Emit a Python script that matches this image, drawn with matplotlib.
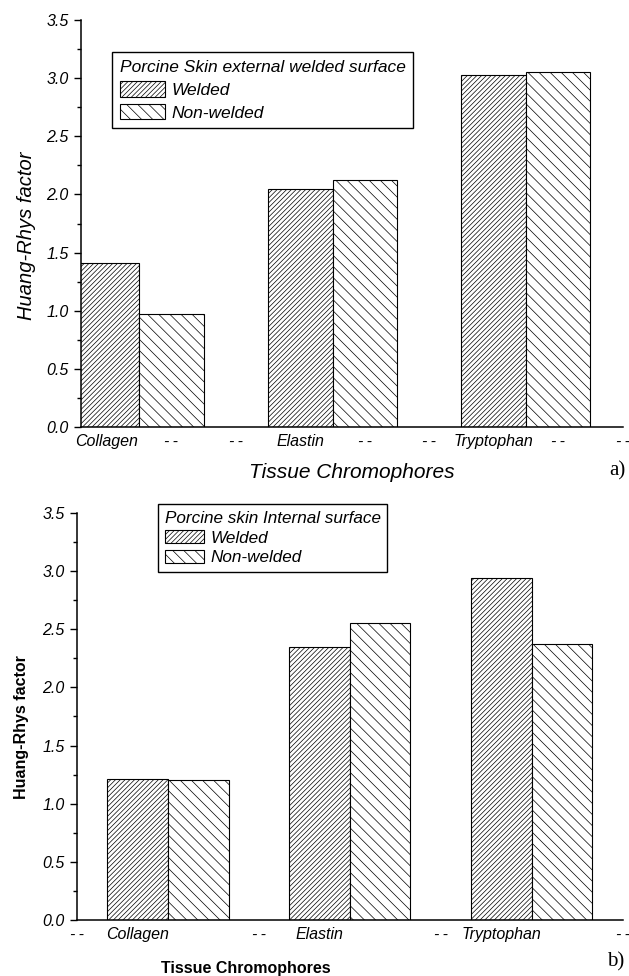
import matplotlib
matplotlib.use("Agg")
import matplotlib.pyplot as plt
from matplotlib.ticker import MultipleLocator

plt.rcParams['font.family'] = ['Liberation Sans', 'DejaVu Sans']
plt.rcParams['hatch.linewidth'] = 0.5

# data
welded_pos = [1, 4, 7]
nonwelded_pos = [2, 5, 8]

ext_welded = [1.41, 2.05, 3.03]
ext_nonwelded = [0.97, 2.12, 3.05]

int_welded = [1.21, 2.35, 2.94]
int_nonwelded = [1.20, 2.55, 2.37]

dash = '-\u2009-'
top_ticks = [1, 2, 3, 4, 5, 6, 7, 8, 9]
top_labels = ['Collagen', dash, dash, 'Elastin', dash, dash, 'Tryptophan', dash, dash]
bot_ticks = [0, 1, 3, 4, 6, 7, 9]
bot_labels = [dash, 'Collagen', dash, 'Elastin', dash, 'Tryptophan', dash]

hatch_w = '/' * 7
hatch_nw = '\\' * 3

fig = plt.figure(figsize=(6.29, 9.76), dpi=100)
ax1 = fig.add_axes([0.1288, 0.5625, 0.8612, 0.417])
ax2 = fig.add_axes([0.1224, 0.0574, 0.8676, 0.417])


def style_axes(ax):
    ax.spines['top'].set_visible(False)
    ax.spines['right'].set_visible(False)
    ax.spines['left'].set_linewidth(1.1)
    ax.spines['bottom'].set_linewidth(1.1)
    ax.set_ylim(0, 3.5)
    ax.yaxis.set_major_locator(MultipleLocator(0.5))
    ax.yaxis.set_minor_locator(MultipleLocator(0.25))
    ax.yaxis.set_major_formatter(matplotlib.ticker.FormatStrFormatter('%.1f'))
    ax.tick_params(axis='y', which='major', direction='out', length=5, width=1.0,
                   labelsize=11.5, pad=4)
    ax.tick_params(axis='y', which='minor', direction='out', length=3, width=1.0)
    ax.tick_params(axis='x', length=0, labelsize=11.5, pad=5)
    for lab in ax.get_yticklabels() + ax.get_xticklabels():
        lab.set_style('italic')


# a) external surface
ax1.bar(welded_pos, ext_welded, width=1.0, facecolor='white', edgecolor='black',
        linewidth=0.8, hatch=hatch_w, label='Welded')
ax1.bar(nonwelded_pos, ext_nonwelded, width=1.0, facecolor='white', edgecolor='black',
        linewidth=0.8, hatch=hatch_nw, label='Non-welded')
ax1.set_xlim(0.6, 9.0)
ax1.set_xticks(top_ticks)
ax1.set_xticklabels(top_labels)
style_axes(ax1)
ax1.set_ylabel('Huang-Rhys factor', fontsize=14.5, style='italic')
ax1.yaxis.set_label_coords(-0.084, 0.469)
ax1.set_xlabel('Tissue Chromophores', fontsize=15, style='italic', labelpad=10)
leg1 = ax1.legend(loc='upper left', bbox_to_anchor=(0.057, 0.921), borderaxespad=0,
                  title='Porcine Skin external welded surface',
                  title_fontproperties={'style': 'italic', 'size': 12.5},
                  prop={'style': 'italic', 'size': 12.5}, alignment='left',
                  fancybox=False, edgecolor='black', framealpha=1,
                  handlelength=2.6, handleheight=1.0, handletextpad=0.4,
                  labelspacing=0.35, borderpad=0.45)
leg1.get_frame().set_linewidth(1.0)

# b) internal surface
ax2.bar(welded_pos, int_welded, width=1.0, facecolor='white', edgecolor='black',
        linewidth=0.8, hatch=hatch_w, label='Welded')
ax2.bar(nonwelded_pos, int_nonwelded, width=1.0, facecolor='white', edgecolor='black',
        linewidth=0.8, hatch=hatch_nw, label='Non-welded')
ax2.set_xlim(0, 9.0)
ax2.set_xticks(bot_ticks)
ax2.set_xticklabels(bot_labels)
style_axes(ax2)
ax2.set_ylabel('Huang-Rhys factor', fontsize=11.5, fontweight='bold')
ax2.yaxis.set_label_coords(-0.088, 0.474)
ax2.set_xlabel('Tissue Chromophores', fontsize=11.5, fontweight='bold')
ax2.xaxis.set_label_coords(0.31, -0.101)
leg2 = ax2.legend(loc='upper left', bbox_to_anchor=(0.148, 1.022), borderaxespad=0,
                  title='Porcine skin Internal surface',
                  title_fontproperties={'style': 'italic', 'size': 12.3},
                  prop={'style': 'italic', 'size': 12.3}, alignment='left',
                  fancybox=False, edgecolor='black', framealpha=1,
                  handlelength=2.3, handleheight=0.8, handletextpad=0.4,
                  labelspacing=0.25, borderpad=0.4)
leg2.get_frame().set_linewidth(1.0)

fig.text(0.981, 0.518, 'a)', family='Liberation Serif', fontsize=15, ha='center', va='center')
fig.text(0.978, 0.014, 'b)', family='Liberation Serif', fontsize=15, ha='center', va='center')

fig.savefig('out.png', dpi=100)
